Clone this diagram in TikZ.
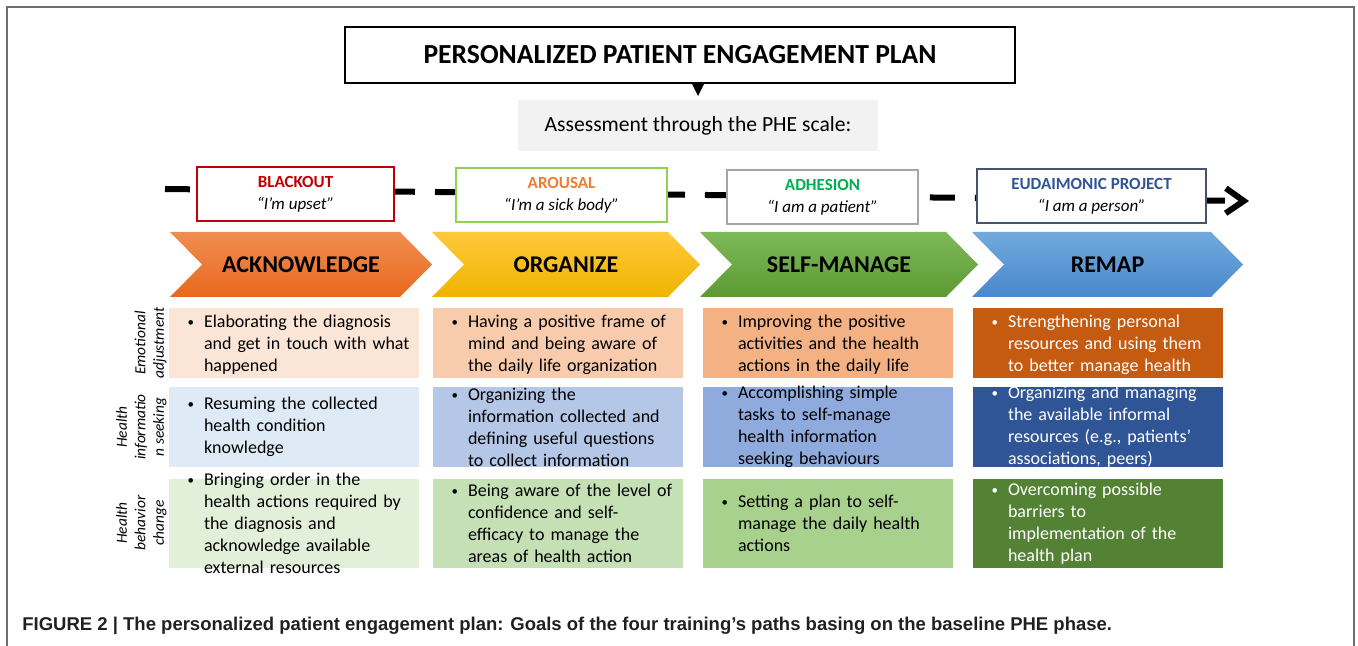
\documentclass[tikz,border=0pt]{standalone}
\usepackage{fontspec}
\setmainfont{Carlito}
\newfontfamily\capfont{Liberation Sans}
\usepackage{graphicx}
\usepackage{tikz}
\usetikzlibrary{
  positioning,
  arrows.meta
}
\usepackage{xcolor}
\definecolor{framegray}{HTML}{6E6E6E}
\definecolor{boxgray}{HTML}{F2F2F2}
\definecolor{blackout}{HTML}{C00000}
\definecolor{arousalline}{HTML}{92D050}
\definecolor{arousal}{HTML}{ED7D31}
\definecolor{adhesionline}{HTML}{A5A5A5}
\definecolor{adhesion}{HTML}{00B050}
\definecolor{projectline}{HTML}{44546A}
\definecolor{project}{HTML}{2F5597}
\definecolor{ackT}{HTML}{F08E50}
\definecolor{ackB}{HTML}{E8681E}
\definecolor{orgT}{HTML}{FFC93A}
\definecolor{orgB}{HTML}{EFB400}
\definecolor{selfT}{HTML}{7FB95A}
\definecolor{selfB}{HTML}{5C9A32}
\definecolor{remapT}{HTML}{72AADE}
\definecolor{remapB}{HTML}{4A87CC}
\definecolor{emo1}{HTML}{FBE5D6}
\definecolor{emo2}{HTML}{F8CBAD}
\definecolor{emo3}{HTML}{F4B183}
\definecolor{emo4}{HTML}{C55A11}
\definecolor{info1}{HTML}{DEEBF7}
\definecolor{info2}{HTML}{B4C7E7}
\definecolor{info3}{HTML}{8FAADC}
\definecolor{info4}{HTML}{2F5597}
\definecolor{act1}{HTML}{E2F0D9}
\definecolor{act2}{HTML}{C5E0B4}
\definecolor{act3}{HTML}{A9D18E}
\definecolor{act4}{HTML}{548235}
\definecolor{capgray}{HTML}{231F20}

% bullet sticking out left of the text block
\newcommand{\bul}[1]{\noindent\llap{\makebox[8.75pt][l]{\hskip0.6pt\raisebox{0.4pt}{\scalebox{0.72}{\textbullet}}}}#1}

\begin{document}
\begin{tikzpicture}[x=0.5pt, y=-0.5pt,
  phase/.style={draw, line width=1pt, fill=white, minimum height=27pt, inner sep=0pt,
    align=center, font=\fontsize{8.5}{11}\selectfont},
  band/.style={font=\fontsize{12}{14}\selectfont\bfseries},
  cell/.style={minimum width=125pt, inner sep=0pt},
  celltext/.style={text width=110pt, align=left, inner sep=0pt, font=\fontsize{9}{11}\selectfont},
  rowlab/.style={rotate=90, anchor=south, align=center, inner sep=0pt,
    font=\fontsize{7.7}{9.3}\selectfont\itshape}
]
  \useasboundingbox (0,0) rectangle (1358,646);

  % Frame
  \draw[framegray, line width=0.75pt] (7,660) -- (7,7) -- (1354,7) -- (1354,660);

  % Title and scale
  \node[draw, line width=1pt, minimum width=335pt, minimum height=28pt,
    font=\fontsize{13.8}{16}\selectfont\bfseries] (title) at (680,55)
    {PERSONALIZED PATIENT ENGAGEMENT PLAN};
  \fill ([xshift=9pt]title.south) ++(-6,0) -- ++(12,0) -- ++(-6,12) -- cycle;
  \node[fill=boxgray, minimum width=180pt, minimum height=25.5pt,
    font=\fontsize{10.8}{13}\selectfont] (assess) at (698,125.5)
    {Assessment through the PHE scale:};

  % Timeline
  \coordinate (tl-start) at (165,189);
  \coordinate (tl-end) at (1249,201);
  \draw[line width=3pt, dash pattern=on 12.5pt off 10pt,
    -{Straight Barb[length=9pt,width=12.5pt]}] (tl-start) -- (tl-end);

  % Phases
  \foreach \nm/\cx/\cy/\w/\ln/\tc/\lab/\quote in {
      blackout/295.5/194/98.5/blackout/blackout/BLACKOUT/“I’m upset”,
      arousal/561.5/195/105.5/arousalline/arousal/AROUSAL/“I’m a sick body”,
      adhesion/822.5/197.5/95.5/adhesionline/adhesion/ADHESION/“I am a patient”,
      project/1091.5/196/114.5/projectline/project/EUDAIMONIC PROJECT/“I am a person”} {
    \node[phase, draw=\ln, minimum width=\w pt] (\nm) at (\cx,\cy)
      {\textcolor{\tc}{\bfseries \lab}\\\itshape \quote};
  }

  % Chevrons
  \foreach \nm/\l/\r/\ct/\cb/\lab in {
      ack/170/432/ackT/ackB/ACKNOWLEDGE,
      org/432/700/orgT/orgB/ORGANIZE,
      self/700/978/selfT/selfB/SELF-MANAGE,
      remap/972/1243/remapT/remapB/REMAP} {
    \shade[top color=\ct, bottom color=\cb] (\l,232) -- (\r-32,232) -- (\r,264.5)
      -- (\r-32,297) -- (\l,297) -- (\l+32,264.5) -- cycle;
    \node[band] (\nm) at ({(\l+\r)/2},264.5) {\lab};
  }

  % Cells
  \foreach \row/\rn/\top/\h in {1/emo/308/70, 2/info/387/80, 3/act/479/89} {
    \foreach \col/\l in {1/169, 2/433, 3/703, 4/973} {
      \node[cell, fill=\rn\col, minimum height=\h*0.5pt] (c\row\col) at (\l+125,\top+\h/2) {};
    }
  }

  % Row labels
  \node[rowlab] (lab1) at (167,343) {Emotional\\adjustment};
  \node[rowlab] (lab2) at (167,427) {Health\\informatio\\n seeking};
  \node[rowlab] (lab3) at (167,523) {Health\\behavior\\change};

  % Emotional adjustment
  \node[celltext, yshift=-1pt, right=17.5pt of c11.west] (t11) {\bul{Elaborating the diagnosis\newline and get in touch with what\newline happened}};
  \node[celltext, yshift=-1pt, right=17.5pt of c12.west] (t12) {\bul{Having a positive frame of\newline mind and being aware of\newline the daily life organization}};
  \node[celltext, yshift=-1pt, right=17.5pt of c13.west] (t13) {\bul{Improving the positive\newline activities and the health\newline actions in the daily life}};
  \node[celltext, yshift=-1pt, text=white, right=17.5pt of c14.west] (t14) {\bul{Strengthening personal\newline resources and using them\newline to better manage health}};

  % Health information seeking
  \node[celltext, right=17.5pt of c21.west] (t21) {\bul{Resuming the collected\newline health condition\newline knowledge}};
  \node[celltext, right=17.5pt of c22.west] (t22) {\bul{Organizing the\newline information collected and\newline defining useful questions\newline to collect information}};
  \node[celltext, right=17.5pt of c23.west] (t23) {\bul{Accomplishing simple\newline tasks to self-manage\newline health information\newline seeking behaviours}};
  \node[celltext, text=white, right=17.5pt of c24.west] (t24) {\bul{Organizing and managing\newline the available informal\newline resources (e.g., patients’\newline associations, peers)}};

  % Health behavior change
  \node[celltext, right=17.5pt of c31.west] (t31) {\bul{Bringing order in the\newline health actions required by\newline the diagnosis and\newline acknowledge available\newline external resources}};
  \node[celltext, right=17.5pt of c32.west] (t32) {\bul{Being aware of the level of\newline confidence and self-\newline efficacy to manage the\newline areas of health action}};
  \node[celltext, right=17.5pt of c33.west] (t33) {\bul{Setting a plan to self-\newline manage the daily health\newline actions}};
  \node[celltext, text=white, right=17.5pt of c34.west] (t34) {\bul{Overcoming possible\newline barriers to\newline implementation of the\newline health plan}};

  % Caption
  \node[anchor=base west, inner sep=0pt, text=capgray,
    font=\capfont\bfseries\fontsize{9.25}{11}\selectfont] (caption) at (22,630)
    {FIGURE 2 | The personalized patient engagement plan: Goals of the four training’s paths basing on the baseline PHE phase.};
\end{tikzpicture}
\end{document}
